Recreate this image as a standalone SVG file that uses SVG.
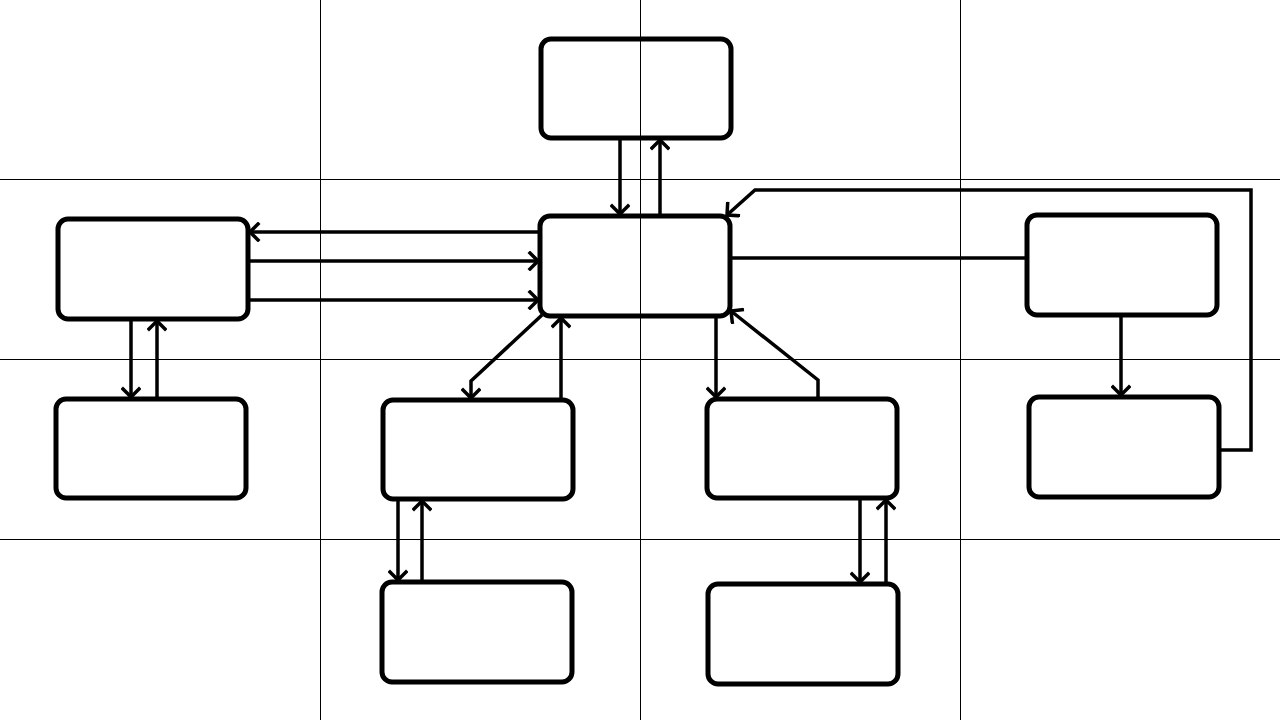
<svg xmlns="http://www.w3.org/2000/svg" width="1280" height="720" viewBox="0 0 1280 720">
<style>
.grid{stroke:#000;stroke-width:1;fill:none}
.box{fill:none;stroke:#000;stroke-width:5}
.c{fill:none;stroke:#000;stroke-width:3.5;stroke-linejoin:miter}
.a{marker-end:url(#arr)}
</style>
<defs>
<marker id="arr" markerUnits="userSpaceOnUse" viewBox="-12 -10 14 20" refX="0" refY="0" markerWidth="14" markerHeight="20" orient="auto">
<path d="M-8,-8 L0,0 L-8,8" fill="none" stroke="#000" stroke-width="3.5" stroke-linecap="square"/>
</marker>
</defs>
<rect width="1280" height="720" fill="#fff"/>
<g id="grid">
<line class="grid" x1="320.5" y1="0" x2="320.5" y2="720"/>
<line class="grid" x1="640.5" y1="0" x2="640.5" y2="720"/>
<line class="grid" x1="960.5" y1="0" x2="960.5" y2="720"/>
<line class="grid" x1="0" y1="179.5" x2="1280" y2="179.5"/>
<line class="grid" x1="0" y1="359.5" x2="1280" y2="359.5"/>
<line class="grid" x1="0" y1="539.5" x2="1280" y2="539.5"/>
</g>
<g id="connectors">
<path class="c a" d="M620,138 V214"/>
<path class="c a" d="M660,216 V140"/>
<path class="c a" d="M540,232 H250"/>
<path class="c a" d="M248,261 H538"/>
<path class="c a" d="M248,300 H538"/>
<path class="c a" d="M131,319 V397"/>
<path class="c a" d="M157,399 V321"/>
<path class="c a" d="M542,315 L471,381 V398"/>
<path class="c a" d="M561,400 V318"/>
<path class="c a" d="M716,316 V397"/>
<path class="c a" d="M818,399 V380 L731,311"/>
<path class="c" d="M730,258 H1027"/>
<path class="c a" d="M1121,315 V395"/>
<path class="c a" d="M1219,450 H1251 V190 H755 L727,215"/>
<path class="c a" d="M398,499 V580"/>
<path class="c a" d="M422,582 V501"/>
<path class="c a" d="M860,498 V582"/>
<path class="c a" d="M886,584 V500"/>
</g>
<g id="n-top"><rect class="box" x="541" y="39" width="190" height="99" rx="10"/></g>
<g id="n-center"><rect class="box" x="540" y="216" width="190" height="100" rx="10"/></g>
<g id="n-left"><rect class="box" x="58" y="219" width="190" height="100" rx="10"/></g>
<g id="n-left-bottom"><rect class="box" x="56" y="399" width="190" height="99" rx="10"/></g>
<g id="n-midleft"><rect class="box" x="383" y="400" width="190" height="99" rx="10"/></g>
<g id="n-midright"><rect class="box" x="707" y="399" width="190" height="99" rx="10"/></g>
<g id="n-right-top"><rect class="box" x="1027" y="215" width="190" height="100" rx="10"/></g>
<g id="n-right-bottom"><rect class="box" x="1029" y="397" width="190" height="100" rx="10"/></g>
<g id="n-bottom-left"><rect class="box" x="382" y="582" width="190" height="100" rx="10"/></g>
<g id="n-bottom-right"><rect class="box" x="708" y="584" width="190" height="100" rx="10"/></g>
</svg>
